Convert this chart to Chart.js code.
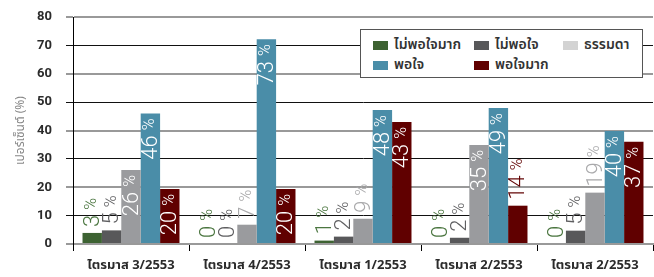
<!DOCTYPE html>
<html>
<head>
<meta charset="utf-8">
<script src="https://cdn.jsdelivr.net/npm/chart.js@4/dist/chart.umd.min.js"></script>
<style>
    body { margin: 0; background: #fff; }
    #wrap { position: relative; width: 654px; height: 277px; }
    #legend {
        position: absolute; left: 360px; top: 29px; width: 281px; height: 47px;
        background: #fff; border: 1px solid #555; box-sizing: content-box;
        font: 600 14px "Noto Sans Thai", "Noto Sans", sans-serif; color: #333;
    }
    .item { position: absolute; height: 18px; line-height: 18px; white-space: nowrap; }
    .swatch { display: inline-block; width: 15px; height: 9px; margin-right: 6px; vertical-align: middle; }
</style>
</head>
<body>
<div id="wrap">
    <canvas id="myChart" width="654" height="277"></canvas>
    <div id="legend"></div>
</div>
<script>
const quarters = ['ไตรมาส 3/2553', 'ไตรมาส 4/2553', 'ไตรมาส 1/2553', 'ไตรมาส 2/2553', 'ไตรมาส 2/2553'];
const seriesNames = ['ไม่พอใจมาก', 'ไม่พอใจ', 'ธรรมดา', 'พอใจ', 'พอใจมาก'];

const veryUnhappy = [3.9, 0, 1.2, 0, 0];
const unhappy = [4.8, 0, 2.6, 2.2, 4.7];
const neutral = [26.1, 6.8, 8.9, 34.9, 18.1];
const happy = [46, 72.2, 47.2, 47.9, 39.8];
const veryHappy = [19.4, 19.4, 43, 13.5, 36];

// printed percent labels
const veryUnhappyLabels = [3, 0, 1, 0, 0];
const unhappyLabels = [5, 0, 2, 2, 5];
const neutralLabels = [26, 7, 9, 35, 19];
const happyLabels = [46, 73, 48, 49, 40];
const veryHappyLabels = [20, 20, 43, 14, 37];

const barColors = ['#3d6232', '#58585a', '#9a9b9e', '#4a8da8', '#600000'];
const legendColors = ['#3d6232', '#58585a', '#d3d3d3', '#4a8da8', '#600000'];
const outsideColors = ['#4b7640', '#5e5e60', '#a9a9ab', '#4a8da8', '#600000'];

const yTicks = [0, 10, 20, 30, 40, 50, 60, 70, 80];

const allValues = [veryUnhappy, unhappy, neutral, happy, veryHappy];
const allLabels = [veryUnhappyLabels, unhappyLabels, neutralLabels, happyLabels, veryHappyLabels];


function renderLegend() {
    let legend = document.getElementById('legend');
    const spots = [[12, 6], [113, 6], [202, 6], [12, 26], [113, 26]];
    legend.innerHTML = '';
    for (let i = 0; i < seriesNames.length; i++) {
        legend.innerHTML += `
            <div class="item" style="left:${spots[i][0]}px; top:${spots[i][1]}px">
                <span class="swatch" style="background:${legendColors[i]}"></span>${seriesNames[i]}
            </div>`;
    }
}


const barLabels = {
    id: 'barLabels',
    afterDatasetsDraw(chart) {
        const ctx = chart.ctx;
        chart.data.datasets.forEach((ds, d) => {
            chart.getDatasetMeta(d).data.forEach((bar, i) => {
                const label = allLabels[d][i];
                const inside = label >= 20;
                const num = String(label);
                ctx.save();
                ctx.translate(bar.x, bar.y);
                ctx.rotate(-Math.PI / 2);
                ctx.textBaseline = 'middle';
                ctx.textAlign = 'left';
                ctx.fillStyle = inside ? '#fff' : outsideColors[d];
                ctx.font = '300 22px Roboto, sans-serif';
                const w1 = ctx.measureText(num).width;
                ctx.font = '300 16px Roboto, sans-serif';
                const w2 = ctx.measureText('%').width;
                const gap = 5;
                const total = w1 + gap + w2;
                const start = inside ? -5 - total : 6;
                ctx.font = '300 22px Roboto, sans-serif';
                ctx.fillText(num, start, 1);
                ctx.font = '300 16px Roboto, sans-serif';
                ctx.fillText('%', start + w1 + gap, 0);
                ctx.restore();
            });
        });
    }
};


function createChart() {
    const ctx = document.getElementById('myChart').getContext('2d');
    new Chart(ctx, {
        type: 'bar',
        data: {
            labels: quarters,
            datasets: seriesNames.map((name, i) => ({
                label: name,
                data: allValues[i],
                backgroundColor: barColors[i],
                categoryPercentage: 0.836,
                barPercentage: 1.0
            }))
        },
        options: {
            responsive: false,
            animation: false,
            layout: { padding: { top: 17, right: 1, left: 0, bottom: 0 } },
            plugins: {
                legend: { display: false },
                tooltip: { enabled: false }
            },
            scales: {
                x: {
                    offset: true,
                    grid: { offset: true, drawOnChartArea: false, color: '#000', tickLength: 7 },
                    border: { color: '#999', width: 2 },
                    ticks: {
                        color: '#2b2b2b', padding: 8,
                        font: { family: '"Noto Sans Thai", "Noto Sans", sans-serif', size: 13, weight: 'bold' }
                    },
                    afterFit: (scale) => {
                        scale.height = 33;
                        scale.paddingLeft = 0;
                        scale.paddingRight = 0;
                    }
                },
                y: {
                    min: 0,
                    max: 80,
                    afterBuildTicks: (scale) => { scale.ticks = yTicks.map(v => ({ value: v })); },
                    grid: {
                        tickLength: 7,
                        color: (c) => (c.tick && c.tick.value % 20 === 0) ? '#999' : '#111',
                        lineWidth: (c) => (c.tick && c.tick.value % 20 === 0) ? 2 : 1
                    },
                    border: { color: '#000', width: 1 },
                    ticks: {
                        color: '#2b2b2b', padding: 14,
                        font: { family: 'Roboto, sans-serif', size: 13, weight: 'bold' }
                    },
                    title: {
                        display: true,
                        text: 'เปอร์เซ็นต์ (%)',
                        color: '#888',
                        padding: { top: 14, bottom: 0 },
                        font: { family: '"Noto Sans Thai", "Noto Sans", sans-serif', size: 12 }
                    },
                    afterFit: (scale) => {
                        scale.width = 73;
                        scale.paddingTop = 0;
                        scale.paddingBottom = 0;
                    }
                }
            }
        },
        plugins: [barLabels]
    });
}


renderLegend();
createChart();
</script>
</body>
</html>
